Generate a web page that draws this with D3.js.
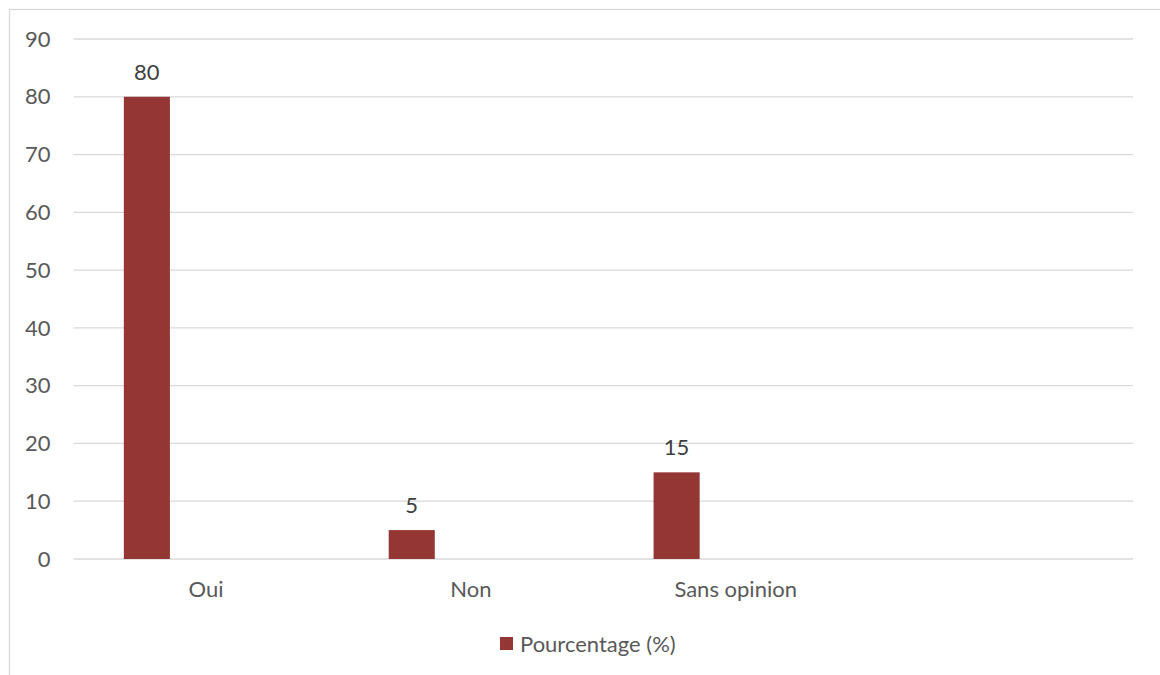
<!DOCTYPE html>
<html>
<head>
<meta charset="utf-8">
<script src="https://cdn.jsdelivr.net/npm/d3@7"></script>
<style>
  body { margin: 0; background: #fff; }
  text { font-family: Lato, "Noto Sans", sans-serif; fill: #595959; }
</style>
</head>
<body>
<div id="chart"></div>
<script>
// données
var categories = ["Oui", "Non", "Sans opinion", ""];
var valeurs = [80, 5, 15, null];
var serie = "Pourcentage (%)";
var yTicks = [0, 10, 20, 30, 40, 50, 60, 70, 80, 90];

var W = 1160, H = 675;
var margin = {top: 39, right: 27, bottom: 116, left: 73.5};
var width = W - margin.left - margin.right,
    height = H - margin.top - margin.bottom;

var svg = d3.select("#chart").append("svg")
  .attr("width", W)
  .attr("height", H);

// cadre du graphique
svg.append("rect")
  .attr("x", 9.5).attr("y", 9.5)
  .attr("width", W + 10).attr("height", H + 10)
  .attr("fill", "none")
  .attr("stroke", "#d9d9d9")
  .attr("stroke-width", 1.3);

var g = svg.append("g")
  .attr("transform", "translate(" + margin.left + "," + margin.top + ")");

var x = d3.scaleBand()
  .domain(categories)
  .range([0, width]);

var y = d3.scaleLinear()
  .domain([0, 90])
  .range([height, 0]);

// lignes de grille
g.selectAll(".grid")
  .data(yTicks)
  .enter().append("line")
  .attr("class", "grid")
  .attr("x1", 0)
  .attr("x2", width)
  .attr("y1", function(d) { return y(d); })
  .attr("y2", function(d) { return y(d); })
  .attr("stroke", "#d9d9d9")
  .attr("stroke-width", 1.3);

// étiquettes axe y
g.selectAll(".ylab")
  .data(yTicks)
  .enter().append("text")
  .attr("class", "ylab")
  .attr("x", -23)
  .attr("y", function(d) { return y(d); })
  .attr("dy", ".35em")
  .attr("text-anchor", "end")
  .style("font-size", "22px")
  .text(function(d) { return d; });

// barres
var barW = x.bandwidth() * 0.174;
var barOff = x.bandwidth() * 0.19;

var bars = categories.map(function(c, i) { return {cat: c, val: valeurs[i]}; })
  .filter(function(d) { return d.val != null; });

g.selectAll(".bar")
  .data(bars)
  .enter().append("rect")
  .attr("class", "bar")
  .attr("x", function(d) { return x(d.cat) + barOff; })
  .attr("y", function(d) { return y(d.val); })
  .attr("width", barW)
  .attr("height", function(d) { return height - y(d.val); })
  .attr("fill", "#943634");

// étiquettes de données
g.selectAll(".vlab")
  .data(bars)
  .enter().append("text")
  .attr("class", "vlab")
  .attr("x", function(d) { return x(d.cat) + barOff + barW / 2; })
  .attr("y", function(d) { return y(d.val) - 17; })
  .attr("text-anchor", "middle")
  .style("font-size", "22px")
  .style("fill", "#404040")
  .text(function(d) { return d.val; });

// étiquettes des catégories
g.selectAll(".xlab")
  .data(categories)
  .enter().append("text")
  .attr("class", "xlab")
  .attr("x", function(d) { return x(d) + x.bandwidth() / 2; })
  .attr("y", height + 38)
  .attr("text-anchor", "middle")
  .style("font-size", "22px")
  .text(function(d) { return d; });

// légende
var leg = svg.append("g")
  .attr("transform", "translate(500,637)");
leg.append("rect")
  .attr("width", 13).attr("height", 13)
  .attr("fill", "#943634");
leg.append("text")
  .attr("x", 20)
  .attr("y", 14.5)
  .style("font-size", "22px")
  .text(serie);
</script>
</body>
</html>
